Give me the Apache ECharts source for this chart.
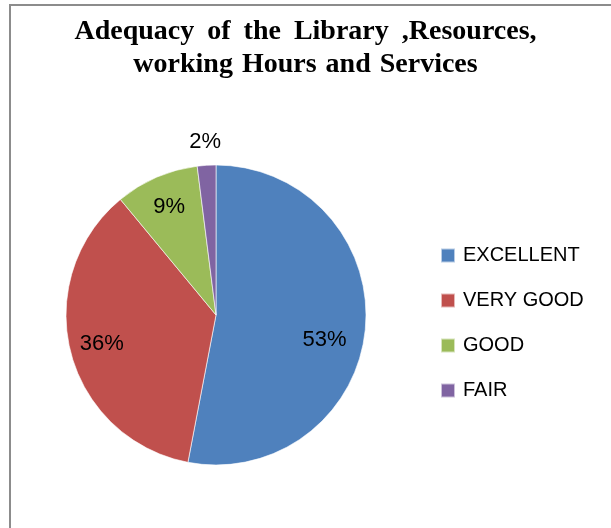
<!DOCTYPE html>
<html>
<head>
<meta charset="utf-8">
<script src="https://cdn.jsdelivr.net/npm/echarts@6/dist/echarts.min.js"></script>
<style>
html, body { margin: 0; padding: 0; background: #fff; }
#main { width: 611px; height: 528px; }
</style>
</head>
<body>
<div id="main"></div>
<script>
var categories = ['EXCELLENT', 'VERY GOOD', 'GOOD', 'FAIR'];
var values = [53, 36, 9, 2];
var colors = ['#4F81BD', '#C0504D', '#9BBB59', '#8064A2'];
var outsideLabels = ['FAIR'];
var titleLines = [
    ['Adequacy', 'of', 'the', 'Library', ',Resources,'],
    ['working', 'Hours', 'and', 'Services']
];

var labelFont = {
    fontFamily: 'Liberation Sans',
    fontSize: 22,
    color: '#000'
};

var myChart = echarts.init(document.getElementById('main'));

function pieData(showFn) {
    return categories.map(function (name, i) {
        var item = {
            name: name,
            value: values[i],
            label: { show: showFn(name) }
        };
        // Excel nudges the big slice's label a little lower
        if (name === 'EXCELLENT') {
            item.label.offset = [-9, 14];
        }
        return item;
    });
}

// first title line is justified, so its word gaps are wider
var titleText = titleLines.map(function (words, li) {
    return words.map(function (w) { return '{t|' + w + '}'; }).join('{s' + li + '| }');
}).join('\n');

var titleFont = {
    fontFamily: 'Liberation Serif',
    fontWeight: 'bold',
    fontSize: 28,
    lineHeight: 33,
    color: '#000'
};

var overlayStyle = {
    color: 'rgba(0,0,0,0)',
    borderWidth: 0
};

var option = {
    animation: false,
    color: colors,
    title: {
        text: titleText,
        left: 'center',
        top: 10,
        textStyle: Object.assign({
            rich: {
                t: titleFont,
                s0: Object.assign({ width: 13 }, titleFont),
                s1: Object.assign({ width: 9 }, titleFont)
            }
        }, titleFont)
    },
    legend: {
        orient: 'vertical',
        left: 440,
        top: 245,
        padding: 0,
        itemWidth: 14,
        itemHeight: 14,
        itemGap: 24,
        icon: 'rect',
        textStyle: {
            fontFamily: 'Liberation Sans',
            fontSize: 20,
            lineHeight: 21,
            color: '#000',
            padding: [0, 0, 0, 3]
        },
        data: categories
    },
    graphic: [{
        type: 'rect',
        shape: { x: 10, y: 5, width: 700, height: 600 },
        style: { fill: 'none', stroke: '#8c8c8c', lineWidth: 2 },
        silent: true
    }],
    series: [
        {
            type: 'pie',
            center: [216, 315],
            radius: [0, 150],
            startAngle: 90,
            clockwise: true,
            label: { show: false },
            labelLine: { show: false },
            itemStyle: { borderColor: 'rgba(255,255,255,0.6)', borderWidth: 1 },
            emphasis: { disabled: true },
            data: pieData(function () { return false; })
        },
        {
            // labels inside the slices
            type: 'pie',
            silent: true,
            center: [216, 315],
            radius: [80, 150],
            startAngle: 90,
            clockwise: true,
            legendHoverLink: false,
            label: Object.assign({ position: 'inside', formatter: '{c}%' }, labelFont),
            labelLine: { show: false },
            itemStyle: overlayStyle,
            emphasis: { disabled: true },
            data: pieData(function (n) { return outsideLabels.indexOf(n) < 0; })
        },
        {
            // small slice label above the pie
            type: 'pie',
            silent: true,
            center: [216, 315],
            radius: [140, 200],
            startAngle: 90,
            clockwise: true,
            legendHoverLink: false,
            label: Object.assign({ position: 'inside', formatter: '{c}%' }, labelFont),
            labelLine: { show: false },
            itemStyle: overlayStyle,
            emphasis: { disabled: true },
            data: pieData(function (n) { return outsideLabels.indexOf(n) >= 0; })
        }
    ]
};

myChart.setOption(option);
</script>
</body>
</html>
